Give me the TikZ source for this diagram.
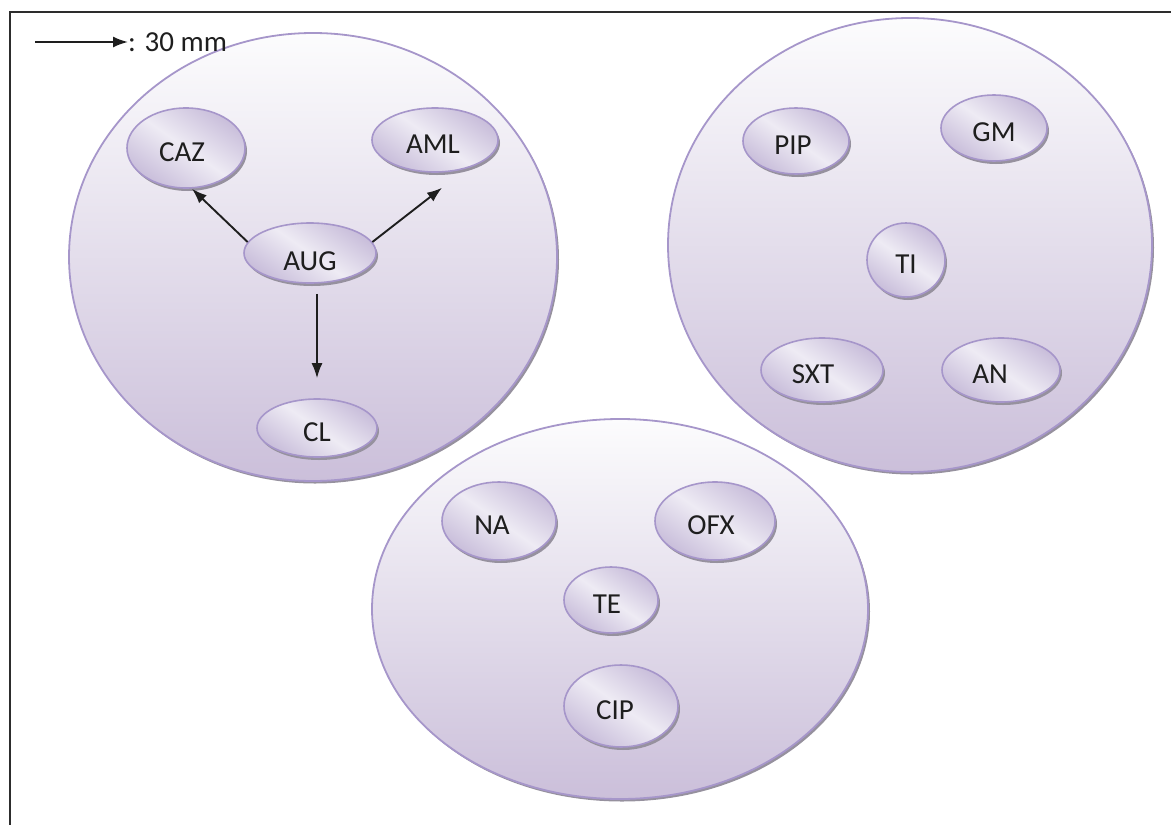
\documentclass[tikz,border=0pt]{standalone}
\usepackage{fontspec}
\setmainfont{Carlito}
\usetikzlibrary{shapes.geometric,shadows,arrows.meta}
\definecolor{edge}{RGB}{166,150,202}
\definecolor{bigtop}{RGB}{252,252,253}
\definecolor{bigbot}{RGB}{203,191,218}
\definecolor{smlight}{RGB}{238,235,244}
\definecolor{smdark}{RGB}{200,189,218}
\definecolor{rim}{RGB}{150,145,158}
\definecolor{frame}{RGB}{45,45,45}
\definecolor{ink}{RGB}{30,30,30}
\newcommand{\lft}[2]{\hspace*{-#1pt}#2}
\begin{document}
\begin{tikzpicture}[x=1pt,y=-1pt,
  sz/.style 2 args={minimum width=#1pt, minimum height=#2pt},
  big/.style={ellipse, draw=edge, line width=1.8pt, inner sep=0pt,
    top color=bigtop, bottom color=bigbot,
    general shadow={fill=rim, shadow xshift=2pt, shadow yshift=-2.5pt}},
  small/.style={ellipse, draw=edge, line width=1.6pt, inner sep=0pt,
    top color=smdark, bottom color=smdark, middle color=smlight, shading angle=-35,
    general shadow={fill=rim, shadow xshift=2pt, shadow yshift=-3pt},
    text=ink, font=\fontsize{29}{33}\selectfont, text height=27pt, text depth=0pt},
  conn/.style={-{Latex[length=15pt,width=11pt]}, line width=1.9pt, draw=ink},
  frameline/.style={draw=frame, line width=2pt}]
\useasboundingbox (0,0) rectangle (1171,825);
\draw[frameline] (1171,12) -- (10,12) -- (10,825);
% big groups
\node[big, sz={488}{448}] (c1) at (313,257) {};
\node[big, sz={484}{454}] (c2) at (910,245) {};
\node[big, sz={496}{380}] (c3) at (620,609) {};
% group 1
\node[small, sz={118}{80}] (caz) at (186,148) {\lft{8}{CAZ}};
\node[small, sz={126}{64}] (aml) at (435,140) {\lft{4}{AML}};
\node[small, sz={132}{60}] (aug) at (310,253) {\raisebox{-4pt}{AUG}};
\node[small, sz={120}{58}] (cl) at (317,428) {CL};
\draw[conn] (aug.170) -- ([xshift=6pt]caz.south);
\draw[conn] (aug.10) -- ([xshift=7pt,yshift=-15pt]aml.south);
\draw[conn, shorten <=10pt, shorten >=20pt] (aug.south -| cl.north) -- (cl.north);
% group 2
\node[small, sz={106}{66}] (pip) at (796,141) {\lft{6}{PIP}};
\node[small, sz={106}{66}] (gm) at (994,128) {GM};
\node[small, sz={78}{74}] (ti) at (906,260) {TI};
\node[small, sz={122}{64}] (sxt) at (822,370) {\lft{18}{SXT}};
\node[small, sz={118}{64}] (an) at (1001,370) {\lft{22}{AN}};
% group 3
\node[small, sz={114}{78}] (na) at (499,521) {\lft{14}{NA}};
\node[small, sz={120}{78}] (ofx) at (715,521) {\lft{8}{OFX}};
\node[small, sz={94}{66}] (te) at (611,600) {\lft{8}{TE}};
\node[small, sz={114}{82}] (cip) at (621,706) {\lft{12}{CIP}};
% scale legend
\coordinate (s0) at (35,42);
\node[anchor=west, inner sep=0pt, text=ink, font=\fontsize{29}{33}\selectfont] (scale) at (128,42) {: 30 mm};
\draw[-{Latex[length=15pt,width=11pt]}, line width=1.9pt, draw=ink] (s0) -- (scale.west);
\end{tikzpicture}
\end{document}
